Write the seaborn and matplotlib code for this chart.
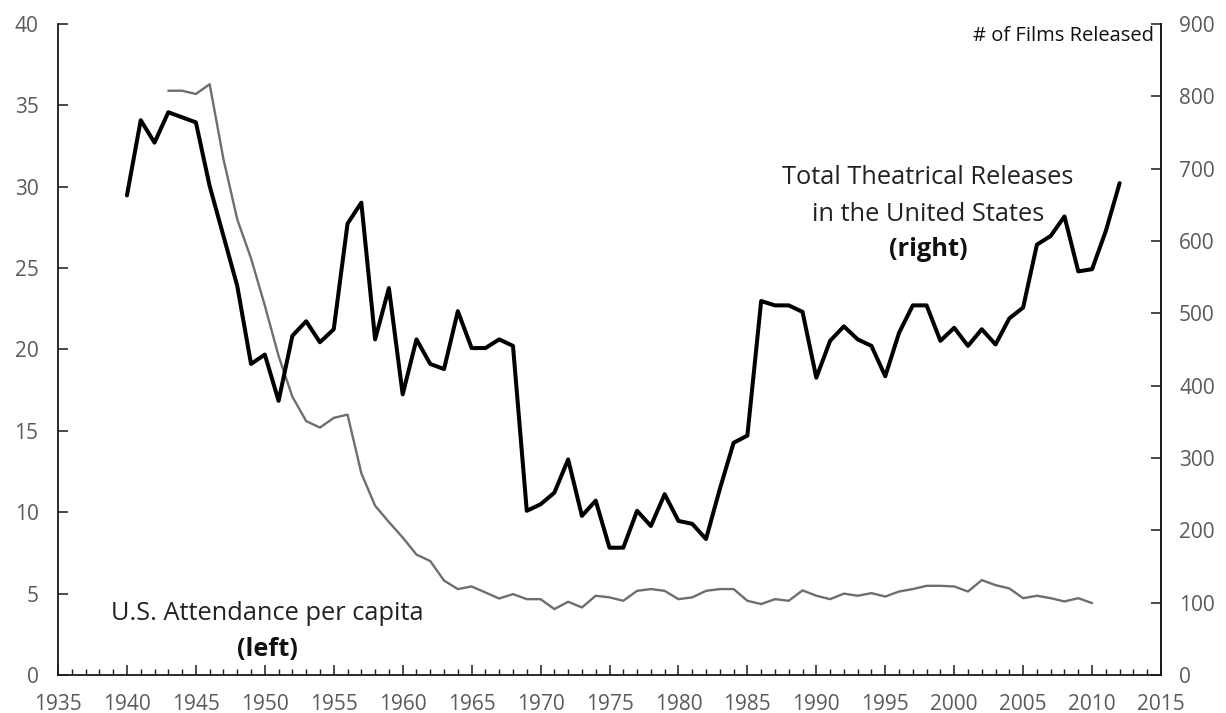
import numpy as np
import pandas as pd
import matplotlib
matplotlib.use("Agg")
import matplotlib.pyplot as plt
from matplotlib.ticker import MultipleLocator
import seaborn as sns

# ---- data ----
release_years = list(range(1940, 2013))
releases = [663, 767, 736, 778, 771, 764, 676, 607, 538, 430,
            443, 379, 469, 489, 460, 478, 624, 653, 464, 535,
            388, 464, 430, 423, 503, 452, 452, 464, 455, 227,
            236, 252, 298, 220, 241, 176, 176, 227, 206, 250,
            213, 209, 188, 257, 321, 331, 517, 511, 511, 502,
            411, 462, 482, 464, 455, 413, 473, 511, 511, 462,
            480, 455, 478, 457, 493, 508, 595, 607, 634, 558,
            561, 614, 680]

attend_years = list(range(1943, 2011))
attendance = [35.9, 35.9, 35.7, 36.3, 31.7, 28.0, 25.6, 22.7, 19.6, 17.1,
              15.6, 15.2, 15.8, 16.0, 12.4, 10.4, 9.4, 8.45, 7.4, 7.0,
              5.8, 5.28, 5.44, 5.07, 4.7, 4.97, 4.66, 4.66, 4.05, 4.5,
              4.15, 4.87, 4.77, 4.56, 5.17, 5.28, 5.17, 4.66, 4.77, 5.17,
              5.28, 5.28, 4.56, 4.36, 4.66, 4.56, 5.2, 4.87, 4.66, 5.0,
              4.87, 5.03, 4.82, 5.13, 5.28, 5.48, 5.48, 5.44, 5.13, 5.83,
              5.52, 5.32, 4.72, 4.87, 4.72, 4.52, 4.72, 4.42]

left_ticks = [0, 5, 10, 15, 20, 25, 30, 35, 40]
right_ticks = [0, 100, 200, 300, 400, 500, 600, 700, 800, 900]
x_ticks = list(range(1935, 2016, 5))

df_rel = pd.DataFrame({"year": release_years, "films": releases})
df_att = pd.DataFrame({"year": attend_years, "attendance": attendance})

sns.set_style("white")
plt.rcParams["font.family"] = ["Open Sans", "DejaVu Sans"]

fig = plt.figure(figsize=(12.26, 7.13), dpi=100)
ax = fig.add_axes([58 / 1226, 1 - 675 / 713, (1161 - 58) / 1226, (675 - 24) / 713])
ax2 = ax.twinx()

sns.lineplot(data=df_att, x="year", y="attendance", ax=ax, color="#6e6e6e", linewidth=1.7)
sns.lineplot(data=df_rel, x="year", y="films", ax=ax2, color="#000000", linewidth=2.9)

ax.set_xlim(1935, 2015)
ax.set_ylim(0, 40)
ax2.set_ylim(0, 900)
ax.set_xticks(x_ticks)
ax.xaxis.set_minor_locator(MultipleLocator(1))
ax.set_yticks(left_ticks)
ax2.set_yticks(right_ticks)

for a in (ax, ax2):
    a.set_xlabel("")
    a.set_ylabel("")
    a.spines["top"].set_visible(False)
    for s in a.spines.values():
        s.set_color("#1a1a1a")
        s.set_linewidth(1.3)

tick_color = "#5a5a5a"
ax.tick_params(axis="x", which="major", direction="in", length=7, width=1.1, color="#1a1a1a",
               labelsize=15, labelcolor=tick_color, pad=14, bottom=True)
ax.tick_params(axis="x", which="minor", direction="in", length=4, width=1.0, color="#1a1a1a", bottom=True)
ax.tick_params(axis="y", which="major", direction="in", length=7, width=1.1, color="#1a1a1a",
               labelsize=15, labelcolor=tick_color, pad=14, left=True)
ax2.tick_params(axis="y", which="major", direction="in", length=7, width=1.1, color="#1a1a1a",
                labelsize=15, labelcolor=tick_color, pad=13, right=True)
ax2.spines["left"].set_visible(False)
ax2.spines["bottom"].set_visible(False)

# annotations
ax2.text(2014.5, 884, "# of Films Released", ha="right", va="center", fontsize=14.5, color="#111111")
ax2.text(1998.1, 688, "Total Theatrical Releases", ha="center", va="center", fontsize=18.3, color="#222222")
ax2.text(1998.1, 637, "in the United States", ha="center", va="center", fontsize=18.3, color="#222222")
ax2.text(1998.1, 588, "(right)", ha="center", va="center", fontsize=18.3, color="#111111", fontweight="bold")
ax.text(1950.2, 3.75, "U.S. Attendance per capita", ha="center", va="center", fontsize=18.3, color="#222222")
ax.text(1950.2, 1.55, "(left)", ha="center", va="center", fontsize=18.3, color="#111111", fontweight="bold")

fig.savefig("out.png", dpi=100, facecolor="white")
